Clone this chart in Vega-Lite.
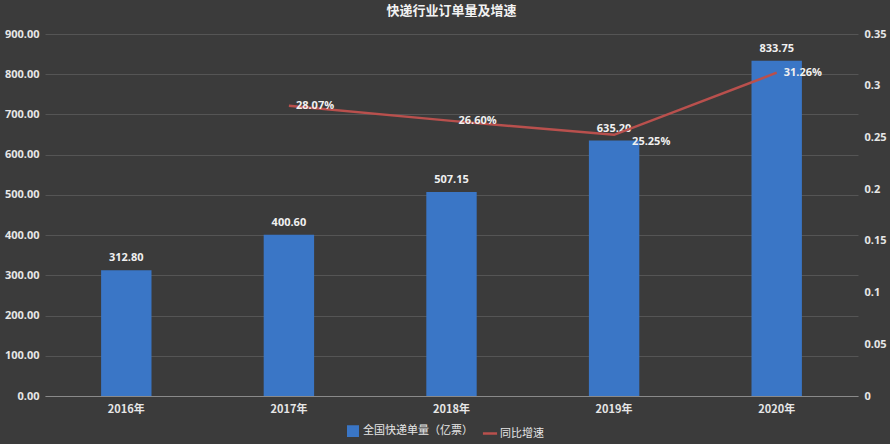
{
  "$schema": "https://vega.github.io/schema/vega-lite/v6.json",
  "width": 890,
  "height": 444,
  "autosize": {"type": "fit", "contains": "padding"},
  "padding": {"left": 4, "top": 5, "right": 3, "bottom": 30},
  "background": "#3b3b3b",
  "title": {
    "text": "快递行业订单量及增速",
    "font": "Noto Sans CJK SC",
    "fontSize": 13,
    "fontWeight": "bold",
    "color": "#f2f2f2",
    "anchor": "middle",
    "offset": 10
  },
  "config": {
    "view": {"stroke": null},
    "font": "Noto Sans CJK SC",
    "axis": {
      "labelColor": "#e6e6e6",
      "labelFontWeight": "bold",
      "labelFontSize": 11,
      "labelFont": "Open Sans",
      "labelOverlap": false,
      "ticks": false,
      "domain": false,
      "title": null
    },
    "legend": {
      "labelColor": "#e6e6e6",
      "labelFont": "Noto Sans CJK SC",
      "labelFontSize": 11
    }
  },
  "data": {
    "values": [
      {"year": "2016年", "orders": 312.80, "growth": null, "growthLabel": ""},
      {"year": "2017年", "orders": 400.60, "growth": 0.2807, "growthLabel": "28.07%"},
      {"year": "2018年", "orders": 507.15, "growth": 0.2660, "growthLabel": "26.60%"},
      {"year": "2019年", "orders": 635.20, "growth": 0.2525, "growthLabel": "25.25%"},
      {"year": "2020年", "orders": 833.75, "growth": 0.3126, "growthLabel": "31.26%"}
    ]
  },
  "encoding": {
    "x": {
      "field": "year",
      "type": "nominal",
      "sort": null,
      "scale": {"paddingInner": 0.69, "paddingOuter": 0.345},
      "axis": {
        "labelAngle": 0,
        "domain": true,
        "domainColor": "#8a8a8a",
        "domainWidth": 1,
        "labelFont": "Noto Sans CJK SC",
        "labelPadding": 7,
        "grid": false
      }
    }
  },
  "layer": [
    {
      "layer": [
        {
          "mark": {"type": "bar", "color": "#3a76c6"},
          "encoding": {
            "y": {
              "field": "orders",
              "type": "quantitative",
              "scale": {"domain": [0, 900]},
              "axis": {
                "values": [0, 100, 200, 300, 400, 500, 600, 700, 800, 900],
                "format": ".2f",
                "grid": true,
                "gridColor": "#555555",
                "gridWidth": 1,
                "labelPadding": 6
              }
            },
            "color": {
              "datum": "全国快递单量（亿票）",
              "type": "nominal",
              "scale": {
                "domain": ["全国快递单量（亿票）", "同比增速"],
                "range": ["#3a76c6", "#b9504d"]
              },
              "legend": {
                "orient": "none",
                "legendX": 302,
                "legendY": 391,
                "direction": "horizontal",
                "title": null,
                "symbolSize": 90,
                "columnPadding": 4,
                "encode": {
                  "symbols": {
                    "update": {
                      "shape": {"signal": "datum.value === '同比增速' ? 'stroke' : 'square'"},
                      "strokeWidth": {"value": 2.5},
                      "size": {"signal": "datum.value === '同比增速' ? 200 : 90"}
                    }
                  }
                }
              }
            }
          }
        },
        {
          "mark": {
            "type": "text",
            "baseline": "bottom",
            "dy": -7,
            "color": "#f0f0f0",
            "font": "Open Sans",
            "fontSize": 11,
            "fontWeight": "bold"
          },
          "encoding": {
            "y": {"field": "orders", "type": "quantitative"},
            "text": {"field": "orders", "type": "quantitative", "format": ".2f"}
          }
        }
      ]
    },
    {
      "transform": [{"filter": "datum.growth != null"}],
      "layer": [
        {
          "mark": {"type": "line", "strokeWidth": 2.5, "color": "#b9504d"},
          "encoding": {
            "y": {
              "field": "growth",
              "type": "quantitative",
              "scale": {"domain": [0, 0.35]},
              "axis": {
                "orient": "right",
                "values": [0, 0.05, 0.1, 0.15, 0.2, 0.25, 0.3, 0.35],
                "format": "~f",
                "grid": false,
                "labelPadding": 6
              }
            },
            "color": {"datum": "同比增速", "type": "nominal"}
          }
        },
        {
          "transform": [{"filter": "datum.year !== '2019年'"}],
          "mark": {
            "type": "text",
            "align": "left",
            "baseline": "middle",
            "dx": 7,
            "color": "#f0f0f0",
            "font": "Open Sans",
            "fontSize": 11,
            "fontWeight": "bold"
          },
          "encoding": {
            "y": {"field": "growth", "type": "quantitative"},
            "text": {"field": "growthLabel"}
          }
        },
        {
          "transform": [{"filter": "datum.year === '2019年'"}],
          "mark": {
            "type": "text",
            "align": "left",
            "baseline": "middle",
            "dx": 18,
            "dy": 7,
            "color": "#f0f0f0",
            "font": "Open Sans",
            "fontSize": 11,
            "fontWeight": "bold"
          },
          "encoding": {
            "y": {"field": "growth", "type": "quantitative"},
            "text": {"field": "growthLabel"}
          }
        }
      ]
    }
  ],
  "resolve": {"scale": {"y": "independent"}}
}
